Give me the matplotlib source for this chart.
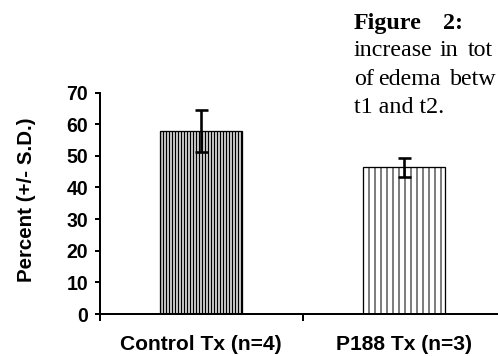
import matplotlib
matplotlib.use("Agg")
import matplotlib.pyplot as plt

categories = ["Control Tx (n=4)", "P188 Tx (n=3)"]
means = [57.8, 46.3]
sds = [6.6, 3.0]
yticks = [0, 10, 20, 30, 40, 50, 60, 70]
ylabel = "Percent (+/- S.D.)"

W, H, DPI = 498, 356, 72
plt.rcParams['hatch.linewidth'] = 1.0
fig = plt.figure(figsize=(W / DPI, H / DPI), dpi=DPI)
fig.patch.set_facecolor("white")

# axes: left spine at x=100px, y=0 at 314px, y=70 at 92.5px, x=2 at 505px
ax = fig.add_axes([100 / W, 42 / H, 405 / W, 221.5 / H])
ax.set_xlim(0, 2)
ax.set_ylim(0, 70)

xpos = [0.5, 1.5]
faces = ["#c0c0c0", "white"]
hatches = ["||||", "||"]
for x, m, s, fc, h in zip(xpos, means, sds, faces, hatches):
    ax.bar(x, m, width=0.405, color=fc, edgecolor="black", linewidth=1.3,
           hatch=h, zorder=2)
    ax.errorbar(x, m, yerr=s, fmt="none", ecolor="black", elinewidth=2.6,
                capsize=6.5, capthick=2.6, zorder=3)

for sp in ["top", "right"]:
    ax.spines[sp].set_visible(False)
for sp in ["left", "bottom"]:
    ax.spines[sp].set_linewidth(2)

ax.set_yticks(yticks)
ax.set_yticklabels([str(v) for v in yticks], fontfamily="Liberation Sans",
                   fontweight="bold", fontsize=19.5)
ax.tick_params(axis="y", direction="out", length=5, width=2, pad=7)

ax.set_xticks([0, 1, 2])
ax.set_xticklabels([])
ax.tick_params(axis="x", which="major", direction="out", length=7, width=2)
ax.set_xticks(xpos, minor=True)
ax.set_xticklabels(categories, minor=True, fontfamily="Liberation Sans",
                   fontweight="bold", fontsize=21)
ax.tick_params(axis="x", which="minor", length=0, pad=21)

fig.text(27 / W, 1 - 200 / H, ylabel, rotation=90, ha="center", va="center",
         fontfamily="Liberation Sans", fontweight="bold", fontsize=20.5)

# caption text (justified lines)
cap_fs = 24
serif = "Liberation Serif"
words = [
    ("Figure", 354, 29, "bold"), ("2:", 443, 29, "bold"),
    ("increase", 354, 56, "normal"), ("in", 440, 56, "normal"), ("tot", 468, 56, "normal"),
    ("of", 354, 85, "normal"), ("edema", 378, 85, "normal"), ("betw", 450, 85, "normal"),
    ("t1 and t2.", 354, 113, "normal"),
]
for txt, x, yb, wt in words:
    fig.text(x / W, 1 - yb / H, txt, ha="left", va="baseline",
             fontfamily=serif, fontweight=wt, fontsize=cap_fs)

fig.savefig("out.png", dpi=DPI, facecolor="white")
